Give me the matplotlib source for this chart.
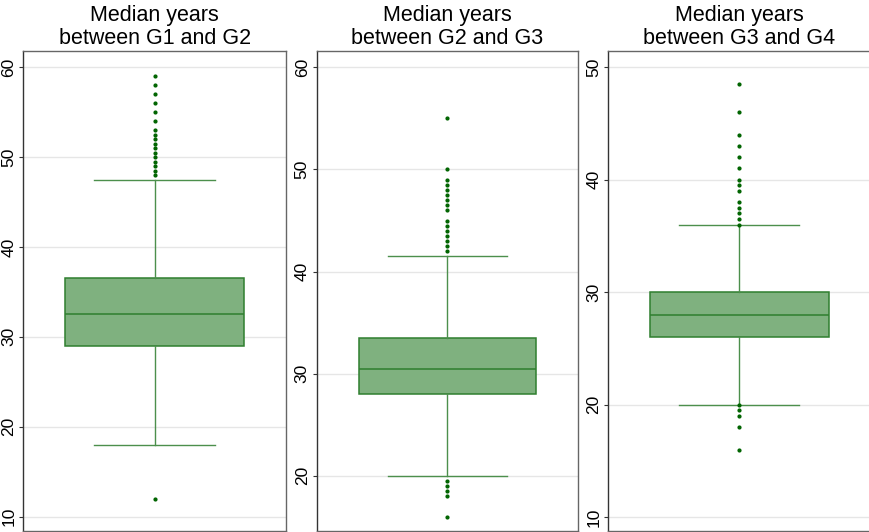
import matplotlib
matplotlib.use('Agg')
import matplotlib.pyplot as plt

# Summary statistics for each generation gap (years)
titles = ['Median years\nbetween G1 and G2',
          'Median years\nbetween G2 and G3',
          'Median years\nbetween G3 and G4']

q1 = [29.0, 28.0, 26.0]
medians = [32.5, 30.5, 28.0]
q3 = [36.5, 33.5, 30.0]
whisker_lo = [18.0, 20.0, 20.0]
whisker_hi = [47.5, 41.5, 36.0]

outliers_g1g2 = [12, 48, 48.5, 49, 49.5, 50, 50.5, 51, 51.5, 52, 52.5, 53,
                 54, 55, 56, 57, 58, 59]
outliers_g2g3 = [16, 18, 18.5, 19, 19.5, 42, 42.5, 43, 43.5, 44, 44.5, 45,
                 46, 46.5, 47, 47.5, 48, 48.5, 49, 50, 55]
outliers_g3g4 = [16, 18, 19, 19.5, 20, 36, 36.5, 37, 37.5, 38, 39, 39.5,
                 40, 41, 42, 43, 44, 46, 48.5]
outliers = [outliers_g1g2, outliers_g2g3, outliers_g3g4]

y_limits = [(8.4, 61.8), (14.6, 61.6), (8.75, 51.45)]
y_ticks = [[10, 20, 30, 40, 50, 60], [20, 30, 40, 50, 60], [10, 20, 30, 40, 50]]

FILL = '#7fb17f'
EDGE = '#2f7f2f'
WHISK = '#4c8f4c'
DOT = '#006400'

plt.rcParams['font.family'] = ['Liberation Sans', 'DejaVu Sans']

fig = plt.figure(figsize=(8.7, 5.32), dpi=100)
W, H = 870, 532
panels = [(23.3, 286.0), (316.7, 578.3), (608.3, 870.5)]
top, bottom = 51, 531

for i, (x0, x1) in enumerate(panels):
    ax = fig.add_axes([x0 / W, 1 - bottom / H, (x1 - x0) / W, (bottom - top) / H])
    stats = [{
        'med': medians[i], 'q1': q1[i], 'q3': q3[i],
        'whislo': whisker_lo[i], 'whishi': whisker_hi[i],
        'fliers': outliers[i],
    }]
    ax.bxp(stats, positions=[1], widths=0.816, patch_artist=True,
           boxprops=dict(facecolor=FILL, edgecolor=EDGE, linewidth=1.1),
           medianprops=dict(color=EDGE, linewidth=1.1),
           whiskerprops=dict(color=WHISK, linewidth=1.0),
           capprops=dict(color=WHISK, linewidth=1.0),
           capwidths=0.55,
           flierprops=dict(marker='o', markersize=2.0, markerfacecolor=DOT,
                           markeredgecolor=DOT, linestyle='none'),
           zorder=3)
    ax.set_xlim(0.4, 1.6)
    ax.set_ylim(*y_limits[i])
    ax.set_yticks(y_ticks[i])
    ax.set_xticks([])
    ax.grid(axis='y', color='#e6e6e6', linewidth=1.0, zorder=0)
    ax.set_axisbelow(True)
    ax.tick_params(axis='y', length=3, width=0.8, color='#333333',
                   labelsize=12.5, labelcolor='black', pad=2)
    for lbl in ax.get_yticklabels():
        lbl.set_rotation(90)
        lbl.set_va('center')
    for side, sp in ax.spines.items():
        sp.set_linewidth(1.0)
        sp.set_color('#333333' if side == 'left' else '#666666')
    ax.set_title(titles[i], fontsize=15.5, pad=5, color='black', linespacing=1.1)

fig.savefig('out.png', dpi=100)
